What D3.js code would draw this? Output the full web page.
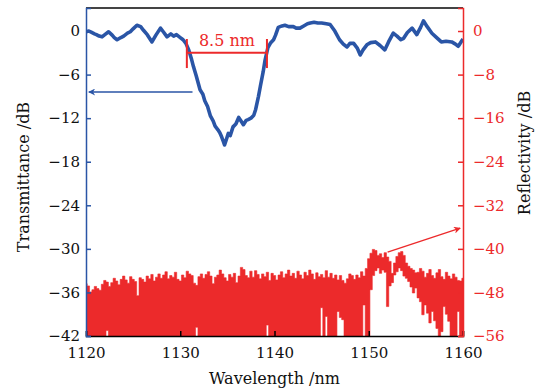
<!DOCTYPE html>
<html>
<head>
<meta charset="utf-8">
<script src="https://cdn.jsdelivr.net/npm/d3@7"></script>
<style>
  body { margin: 0; background: #fff; }
  svg text { font-family: "DejaVu Serif", serif; }
</style>
</head>
<body>
<script>
// ---- data ----
const xTicks = [1120, 1130, 1140, 1150, 1160];
const leftTicks = [0, -6, -12, -18, -24, -30, -36, -42];
const rightTicks = [0, -8, -16, -24, -32, -40, -48, -56];

// transmittance (left axis, dB)
const transWl = [1120.0, 1120.3, 1120.6, 1120.9, 1121.1, 1121.4, 1121.7, 1122.0, 1122.4, 1122.8, 1123.0, 1123.3, 1123.7,
  1124.0, 1124.4, 1124.7, 1125.0, 1125.4, 1125.8, 1126.1, 1126.5, 1127.0, 1127.4, 1127.9, 1128.2, 1128.6, 1129.0,
  1129.3, 1129.6, 1130.0, 1130.3, 1130.6, 1130.9, 1131.2, 1131.4, 1131.7, 1132.1, 1132.4, 1132.6, 1132.9, 1133.2,
  1133.5, 1133.7, 1134.0, 1134.2, 1134.4, 1134.6, 1134.7, 1134.9, 1135.1, 1135.3, 1135.6, 1135.9, 1136.2, 1136.5,
  1136.7, 1137.0, 1137.2, 1137.5, 1137.8, 1138.0, 1138.3, 1138.5, 1138.8, 1139.0, 1139.3, 1139.6, 1139.9, 1140.1,
  1140.4, 1140.8, 1141.1, 1141.5, 1142.0, 1142.3, 1142.7, 1143.1, 1143.5, 1143.8, 1144.2, 1144.6, 1145.0, 1145.5,
  1145.9, 1146.4, 1146.9, 1147.3, 1147.7, 1148.0, 1148.4, 1148.8, 1149.1, 1149.4, 1149.8, 1150.2, 1150.7, 1151.2,
  1151.7, 1152.1, 1152.6, 1153.0, 1153.4, 1153.7, 1154.1, 1154.6, 1155.1, 1155.5, 1155.8, 1156.2, 1156.7, 1157.2,
  1157.7, 1158.2, 1158.8, 1159.2, 1159.5, 1160.0];
const transDb = [-0.1, 0.0, -0.2, -0.4, -0.5, -0.7, -0.8, -0.5, -0.1, -0.6, -0.9, -1.2, -0.9,
  -0.7, -0.3, -0.1, 0.3, 0.8, 0.6, 0.1, -0.5, -1.5, -0.6, 0.4, -0.1, -0.8, -0.4,
  -0.7, -0.5, -0.9, -1.2, -1.7, -2.6, -3.9, -4.9, -6.2, -8.1, -8.7, -9.6, -10.4, -11.7,
  -12.4, -13.1, -13.6, -14.0, -14.6, -15.3, -15.7, -14.9, -14.1, -14.4, -13.2, -12.8, -11.9, -12.5,
  -12.9, -12.3, -12.2, -12.0, -11.6, -10.8, -9.0, -7.6, -5.6, -4.0, -2.3, -1.6, -1.2, -0.6,
  0.5, 0.7, 0.8, 0.6, 0.6, 0.4, 0.4, 0.7, 1.0, 1.1, 1.2, 1.1, 1.1, 1.0,
  0.9, 0.0, -1.2, -1.8, -2.2, -1.7, -1.7, -2.4, -3.3, -2.6, -1.9, -1.6, -1.5, -2.0,
  -2.6, -1.5, -0.3, -0.7, -1.2, -1.0, -0.2, 0.4, -0.5, 0.5, 1.4, 0.6, -0.3, -0.9,
  -1.5, -1.4, -1.5, -1.8, -2.1, -1.1];

// reflectivity (right axis, dB): 0.25 nm grid from 1120 to 1160
const reflStart = 1120, reflStep = 0.25;
const reflTop = [
  -46.4, -46.8, -47.9, -47.5, -46.9, -47.3, -47.6, -46.5, -45.8, -46.1, -46.9, -46.2, -45.4, -45.9, -46.6, -45.6,
  -45.0, -45.7, -46.3, -45.1, -45.6, -46.0, -48.6, -45.3, -45.6, -46.1, -45.0, -45.5, -44.7, -45.9, -45.2, -44.6,
  -45.4, -44.8, -44.2, -45.5, -44.9, -45.2, -44.3, -45.6, -45.9, -44.8, -45.3, -44.1, -44.6, -44.9, -46.3, -46.7,
  -45.1, -44.6, -45.4, -44.7, -44.2, -45.0, -46.4, -45.2, -44.8, -43.9, -44.6, -45.3, -45.9, -44.7, -45.2, -44.5,
  -46.2, -45.0, -43.4, -43.8, -44.9, -45.3, -44.1, -45.2, -44.0, -44.7, -45.5, -44.6, -45.1, -44.3, -45.8, -44.5,
  -44.9, -45.7, -44.8, -44.2, -45.3, -44.6, -43.9, -45.0, -44.5, -45.4, -44.1, -44.8, -45.5, -44.3, -44.9, -43.9,
  -44.6, -45.6, -44.4, -45.1, -44.7, -45.3, -44.0, -45.2, -44.5, -45.4, -44.8, -45.7, -44.9, -45.8, -46.3, -45.5,
  -44.6, -44.9, -45.6, -44.8, -45.3, -44.2, -45.0, -43.6, -41.8, -40.8, -40.1, -40.3, -41.2, -40.9, -41.6, -40.7,
  -41.5, -42.3, -44.5, -42.6, -41.4, -40.7, -40.5, -41.2, -42.6, -43.2, -43.6, -43.9, -44.4, -44.3, -43.6, -44.1,
  -45.2, -44.5, -43.8, -44.9, -45.4, -44.4, -43.8, -45.1, -45.6, -44.3, -45.0, -45.5, -44.6, -45.2, -45.8, -45.9,
  -45.4];
const reflBottom = [
  -56, -56, -56, -56, -56, -56, -56, -56, -56, -55.0, -56, -56, -56, -56, -56, -56,
  -56, -56, -56, -56, -56, -56, -56, -56, -56, -56, -56, -56, -56, -56, -56, -56,
  -56, -56, -56, -56, -56, -56, -56, -56, -56, -56, -56, -56, -56, -56, -56, -54.4,
  -56, -56, -56, -56, -56, -56, -56, -56, -56, -56, -56, -56, -56, -56, -56, -56,
  -56, -56, -56, -56, -56, -56, -56, -56, -56, -56, -56, -56, -56, -54.0, -56, -56,
  -56, -56, -56, -56, -56, -56, -56, -56, -56, -56, -56, -56, -56, -56, -56, -56,
  -56, -56, -56, -56, -50.8, -56, -52.4, -56, -56, -56, -56, -51.5, -52.6, -53.0, -56, -56,
  -56, -56, -56, -56, -56, -56, -50.3, -56, -56, -47.5, -44.9, -44.0, -43.5, -44.5, -43.9, -44.3,
  -50.6, -46.8, -46.2, -44.8, -44.2, -43.5, -44.0, -45.0, -45.4, -46.0, -47.0, -48.1, -47.2, -49.0, -49.7, -52.1,
  -50.3, -51.8, -53.6, -51.5, -53.2, -54.6, -56, -55.2, -50.6, -52.0, -53.3, -56, -56, -56, -51.5, -56,
  -56];

// ---- layout ----
const W = 540, H = 389;
const margin = {top: 8, right: 77, bottom: 53, left: 86};
const iw = W - margin.left - margin.right;
const ih = H - margin.top - margin.bottom;
const blue = '#2a55a6', red = '#ec2a2b';

const svg = d3.select('body').append('svg').attr('width', W).attr('height', H);
const g = svg.append('g').attr('transform', `translate(${margin.left},${margin.top})`);

const x = d3.scaleLinear().domain([1120, 1160]).range([0, iw]);
const yL = d3.scaleLinear().domain([-42, 3.17]).range([ih, 0]);
const yR = d3.scaleLinear().domain([-56, 3.17 * 56 / 42]).range([ih, 0]);

svg.append('defs').append('clipPath').attr('id', 'plot')
  .append('rect').attr('width', iw).attr('height', ih);

// reflectivity band
const refl = reflTop.map((v, i) => ({wl: reflStart + i * reflStep, top: v, bot: reflBottom[i]}));
g.append('path')
  .datum(refl)
  .attr('clip-path', 'url(#plot)')
  .attr('fill', red)
  .attr('stroke', red)
  .attr('stroke-width', 0.6)
  .attr('d', d3.area().curve(d3.curveStep)
    .x(d => x(d.wl)).y0(d => yR(d.bot)).y1(d => yR(d.top)));

// transmittance line
const trans = transWl.map((w, i) => ({wl: w, db: transDb[i]}));
g.append('path')
  .datum(trans)
  .attr('clip-path', 'url(#plot)')
  .attr('fill', 'none')
  .attr('stroke', blue)
  .attr('stroke-width', 3.6)
  .attr('stroke-linejoin', 'round')
  .attr('d', d3.line().x(d => x(d.wl)).y(d => yL(d.db)));

// top frame
g.append('line').attr('x1', 0).attr('x2', iw).attr('y1', 0).attr('y2', 0)
  .attr('stroke', '#444').attr('stroke-width', 2);

// axes
const xAxis = g.append('g').attr('transform', `translate(0,${ih})`)
  .call(d3.axisBottom(x).tickValues(xTicks).tickSize(-5).tickPadding(11).tickFormat(d3.format('d')));
xAxis.select('.domain').attr('stroke', '#000').attr('stroke-width', 1.5);
xAxis.selectAll('.tick line').attr('stroke', '#000').attr('stroke-width', 1.5);

const yAxisL = g.append('g')
  .call(d3.axisLeft(yL).tickValues(leftTicks).tickSize(-5).tickPadding(6));
yAxisL.select('.domain').attr('stroke', blue).attr('stroke-width', 1.5);
yAxisL.selectAll('.tick line').attr('stroke', blue).attr('stroke-width', 1.5);

const yAxisR = g.append('g').attr('transform', `translate(${iw},0)`)
  .call(d3.axisRight(yR).tickValues(rightTicks).tickSize(-5).tickPadding(10));
yAxisR.select('.domain').attr('stroke', red).attr('stroke-width', 1.5);
yAxisR.selectAll('.tick line').attr('stroke', red).attr('stroke-width', 1.5);

svg.selectAll('.tick text').attr('font-size', 15).attr('font-family', '"DejaVu Serif", serif');
xAxis.selectAll('.tick text').attr('fill', '#111');
yAxisL.selectAll('.tick text').attr('fill', '#111');
yAxisR.selectAll('.tick text').attr('fill', red);

// axis titles
svg.append('text').attr('x', margin.left + iw / 2).attr('y', 384)
  .attr('text-anchor', 'middle').attr('font-size', 16).attr('fill', '#111')
  .text('Wavelength /nm');
svg.append('text').attr('transform', 'translate(28.5,177) rotate(-90)')
  .attr('text-anchor', 'middle').attr('font-size', 16).attr('fill', '#111')
  .text('Transmittance /dB');
svg.append('text').attr('transform', 'translate(530,153) rotate(-90)')
  .attr('text-anchor', 'middle').attr('font-size', 16).attr('fill', '#111')
  .text('Reflectivity /dB');

// arrow markers
const defs = svg.select('defs');
[['arrBlue', blue], ['arrRed', red]].forEach(([id, c]) => {
  defs.append('marker').attr('id', id)
    .attr('viewBox', '0 0 10 10').attr('refX', 9).attr('refY', 5)
    .attr('markerWidth', 9).attr('markerHeight', 7).attr('markerUnits', 'userSpaceOnUse')
    .attr('orient', 'auto')
    .append('path').attr('d', 'M0,0 L10,5 L0,10 L3,5 Z').attr('fill', c);
});

g.append('line')
  .attr('x1', x(1131.3)).attr('y1', yL(-8.4))
  .attr('x2', x(1120.3)).attr('y2', yL(-8.4))
  .attr('stroke', blue).attr('stroke-width', 1.3)
  .attr('marker-end', 'url(#arrBlue)');

g.append('line')
  .attr('x1', x(1152.0)).attr('y1', yR(-40.6))
  .attr('x2', x(1159.7)).attr('y2', yR(-36.2))
  .attr('stroke', red).attr('stroke-width', 1.3)
  .attr('marker-end', 'url(#arrRed)');

// 8.5 nm bandwidth marker
const bw = g.append('g').attr('stroke', red).attr('stroke-width', 2);
bw.append('line').attr('x1', x(1130.7)).attr('x2', x(1139.2)).attr('y1', yL(-3.0)).attr('y2', yL(-3.0));
[1130.7, 1139.2].forEach(w => {
  bw.append('line').attr('x1', x(w)).attr('x2', x(w)).attr('y1', yL(-1.1)).attr('y2', yL(-5.1));
});
g.append('text').attr('x', x(1134.95)).attr('y', yL(-2.0))
  .attr('text-anchor', 'middle').attr('font-size', 16).attr('fill', red)
  .text('8.5 nm');
</script>
</body>
</html>
